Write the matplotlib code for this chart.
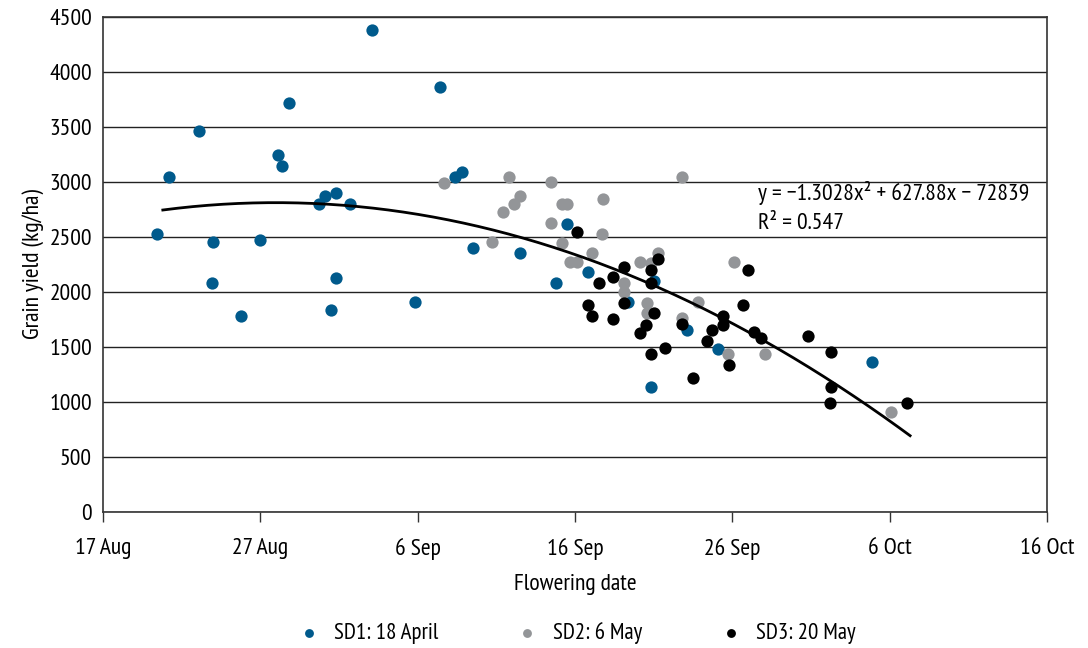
import numpy as np
import matplotlib
matplotlib.use('Agg')
import matplotlib.pyplot as plt
from matplotlib import font_manager

#=======================================================
# Data (flowering date as day of year, leap year: 17 Aug = 230)
#=======================================================

sd1_day = [233.4, 234.2, 236.1, 237.0, 236.9, 238.8, 240.0, 241.1, 241.4, 241.8,
           243.7, 244.1, 244.8, 245.7, 244.8, 244.5, 247.1, 249.8, 251.4, 252.4,
           252.8, 253.5, 256.5, 258.8, 259.5, 260.8, 263.4, 264.8, 265.0, 267.1,
           269.1, 278.9]
sd1_yield = [2530, 3045, 3464, 2455, 2082, 1782, 2473, 3245, 3145, 3718,
             2800, 2873, 2900, 2800, 2127, 1836, 4382, 1909, 3864, 3045,
             3091, 2400, 2355, 2082, 2618, 2182, 1909, 1136, 2100, 1655,
             1482, 1364]

sd2_day = [251.7, 254.7, 255.4, 255.8, 256.1, 256.5, 258.5, 258.5, 259.2, 259.2,
           259.5, 259.7, 260.1, 261.1, 261.7, 261.8, 263.1, 263.1, 264.1, 264.6,
           264.6, 264.8, 265.3, 266.8, 266.8, 267.8, 270.1, 269.7, 272.1, 280.1]
sd2_yield = [2991, 2455, 2727, 3045, 2800, 2873, 3000, 2627, 2445, 2800,
             2800, 2273, 2273, 2355, 2527, 2845, 2000, 2082, 2273, 1900,
             1809, 2264, 2355, 3045, 1764, 1909, 2273, 1436, 1436, 909]

sd3_day = [260.1, 260.8, 261.1, 261.5, 262.4, 262.4, 263.1, 263.1, 264.1, 264.5,
           264.8, 264.8, 264.8, 265.0, 265.3, 265.7, 266.8, 267.5, 268.4, 268.7,
           269.4, 269.4, 269.8, 270.7, 271.0, 271.4, 271.8, 274.8, 276.3, 276.3,
           276.2, 281.1]
sd3_yield = [2545, 1882, 1782, 2082, 2136, 1755, 2227, 1900, 1627, 1700,
             2200, 2082, 1436, 1809, 2300, 1491, 1709, 1218, 1555, 1655,
             1782, 1700, 1336, 1882, 2200, 1636, 1582, 1600, 1455, 1136,
             991, 991]

# quadratic trend line
a2, a1, a0 = -1.3028, 627.88, -72839
r2 = 0.547
fit_start, fit_end = 233.8, 281.3

tick_days = [230, 240, 250, 260, 270, 280, 290]
tick_labels = ['17 Aug', '27 Aug', '6 Sep', '16 Sep', '26 Sep', '6 Oct', '16 Oct']

#=======================================================
# Plot
#=======================================================

# pick a narrow sans face if one is installed
names = {f.name for f in font_manager.fontManager.ttflist}
narrow = ['PT Sans Narrow', 'Fira Sans Condensed', 'Encode Sans Condensed',
          'Roboto Condensed', 'Open Sans Condensed', 'Archivo Narrow',
          'IBM Plex Sans Condensed', 'Asap Condensed', 'Sofia Sans Condensed',
          'Barlow Semi Condensed', 'Liberation Sans Narrow']
family = [n for n in narrow if n in names][:1]
plt.rcParams['font.family'] = family + ['DejaVu Sans']

fig = plt.figure(figsize=(10.88, 6.48), dpi=100)
ax = fig.add_axes([0.0947, 0.2099, 0.8676, 0.7639])

ax.set_axisbelow(True)
ax.yaxis.grid(True, color='#222222', linewidth=1.0)

ms = 78
ax.scatter(sd1_day, sd1_yield, s=ms, color='#005a8c', label='SD1: 18 April',
           linewidths=0, zorder=3)
ax.scatter(sd2_day, sd2_yield, s=ms, color='#939598', label='SD2: 6 May',
           linewidths=0, zorder=3)
ax.scatter(sd3_day, sd3_yield, s=ms, color='#000000', label='SD3: 20 May',
           linewidths=0, zorder=3)

xf = np.linspace(fit_start, fit_end, 200)
ax.plot(xf, a2 * xf**2 + a1 * xf + a0, color='black', linewidth=2, zorder=4)

ax.text(271.6, 2900, f'y = −{abs(a2)}x² + {a1}x − {abs(a0)}', fontsize=17,
        va='center', ha='left')
ax.text(271.6, 2625, f'R² = {r2}', fontsize=17, va='center', ha='left')

ax.set_xlim(230, 290)
ax.set_ylim(0, 4500)
ax.set_xticks(tick_days)
ax.set_xticklabels(tick_labels)
ax.set_yticks(np.arange(0, 4501, 500))

ax.tick_params(axis='x', direction='out', length=7, width=1, labelsize=17,
               pad=12, color='#333333')
ax.tick_params(axis='y', length=0, labelsize=17, pad=8)

for sp in ax.spines.values():
    sp.set_color('#333333')
    sp.set_linewidth(1.2)

ax.set_ylabel('Grain yield (kg/ha)', fontsize=17, labelpad=4)
ax.set_xlabel('Flowering date', fontsize=17, labelpad=10)

fig.legend(loc='center', bbox_to_anchor=(0.53, 0.023), ncol=3, frameon=False,
           fontsize=16.5, markerscale=0.72, handlelength=1.0, handletextpad=0.6,
           columnspacing=3.4)

fig.savefig('out.png', dpi=100)
